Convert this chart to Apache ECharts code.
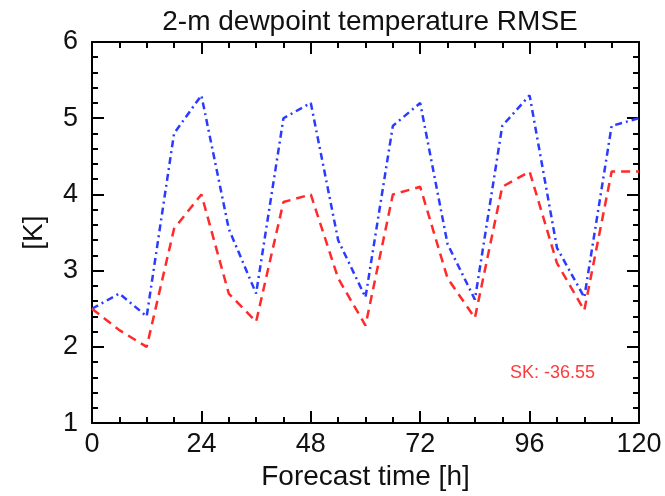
<!DOCTYPE html>
<html>
<head>
<meta charset="utf-8">
<script src="https://cdn.jsdelivr.net/npm/echarts@6/dist/echarts.min.js"></script>
<style>
html,body{margin:0;padding:0;background:#fff;}
#chart{width:665px;height:496px;}
</style>
</head>
<body>
<div id="chart"></div>
<script>
var hours = [0, 6, 12, 18, 24, 30, 36, 42, 48, 54, 60, 66, 72, 78, 84, 90, 96, 102, 108, 114, 120];
var blueValues = [2.5, 2.7, 2.4, 4.8, 5.3, 3.55, 2.7, 5.0, 5.2, 3.4, 2.65, 4.9, 5.2, 3.35, 2.62, 4.9, 5.3, 3.3, 2.65, 4.9, 5.0];
var redValues = [2.5, 2.22, 2.0, 3.55, 4.0, 2.7, 2.33, 3.9, 4.0, 2.9, 2.28, 4.0, 4.1, 2.9, 2.38, 4.1, 4.3, 3.1, 2.48, 4.3, 4.3];
var titleText = '2-m dewpoint temperature RMSE';
var xName = 'Forecast time [h]';
var yName = '[K]';
var skText = 'SK: -36.55';

var FONT = '"Liberation Sans", Arial, Helvetica, sans-serif';
function pairs(xs, ys){ return xs.map(function(x,i){ return [x, ys[i]]; }); }

var chart = echarts.init(document.getElementById('chart'), null, {renderer:'canvas'});
var axisLine = {show:true, onZero:false, lineStyle:{color:'#000', width:2}};
var majorTick = {show:true, inside:true, length:12, lineStyle:{color:'#000', width:2}};
var minorTickX = {show:true, splitNumber:4, length:6, lineStyle:{color:'#000', width:2}};
var minorTickY = {show:true, splitNumber:5, length:6, lineStyle:{color:'#000', width:2}};

chart.setOption({
  animation:false,
  backgroundColor:'#fff',
  title:{text:titleText, left:365, top:3, textAlign:'center',
    textStyle:{fontFamily:FONT, fontSize:28, fontWeight:'normal', color:'#111'}},
  grid:{left:92, right:26, top:42, bottom:64, containLabel:false},
  xAxis:[{
    type:'value', min:0, max:120, interval:24, position:'bottom',
    axisLine:axisLine, axisTick:majorTick, minorTick:minorTickX,
    splitLine:{show:false}, minorSplitLine:{show:false},
    axisLabel:{fontFamily:FONT, fontSize:27, color:'#111', margin:8},
    name:xName, nameLocation:'middle', nameGap:34,
    nameTextStyle:{fontFamily:FONT, fontSize:28, color:'#111'}
  },{
    type:'value', min:0, max:120, interval:24, position:'top',
    axisLine:axisLine, axisTick:majorTick, minorTick:minorTickX,
    splitLine:{show:false}, axisLabel:{show:false}
  }],
  yAxis:[{
    type:'value', min:1, max:6, interval:1, position:'left',
    axisLine:axisLine, axisTick:majorTick, minorTick:minorTickY,
    splitLine:{show:false}, minorSplitLine:{show:false},
    axisLabel:{fontFamily:FONT, fontSize:27, color:'#111', margin:14},
    name:yName, nameLocation:'middle', nameGap:44,
    nameTextStyle:{fontFamily:FONT, fontSize:28, color:'#111'}
  },{
    type:'value', min:1, max:6, interval:1, position:'right',
    axisLine:axisLine, axisTick:majorTick, minorTick:minorTickY,
    splitLine:{show:false}, axisLabel:{show:false}
  }],
  series:[{
    type:'line', name:'blue', xAxisIndex:0, yAxisIndex:0,
    data:pairs(hours, blueValues), symbol:'none',
    lineStyle:{color:'#2a3bff', width:2.5, type:[7,4,2,4]}
  },{
    type:'line', name:'red', xAxisIndex:0, yAxisIndex:0,
    data:pairs(hours, redValues), symbol:'none',
    lineStyle:{color:'#ff2a2a', width:2.5, type:[9,6]}
  }],
  graphic:[{
    type:'text', left:510, top:364,
    style:{text:skText, fill:'#ff3a3a', font:'18px ' + FONT}
  }]
});
</script>
</body>
</html>
